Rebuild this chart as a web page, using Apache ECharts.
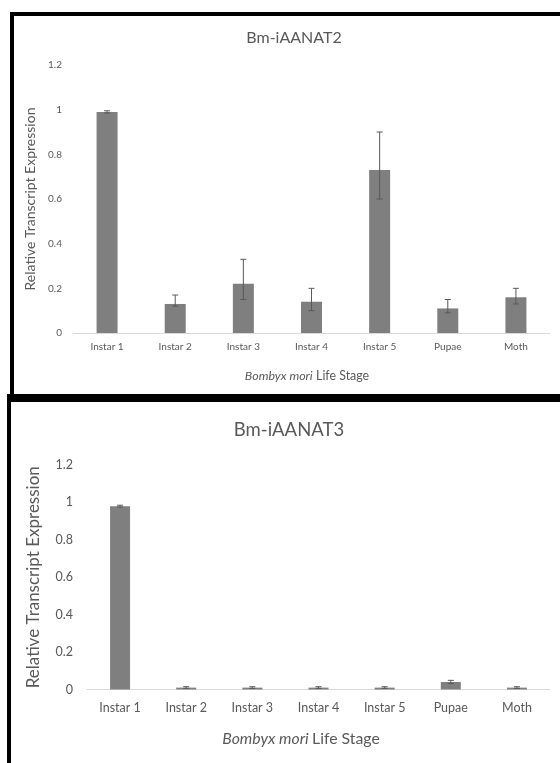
<!DOCTYPE html>
<html><head><meta charset="utf-8">
<script src="https://cdn.jsdelivr.net/npm/echarts@6/dist/echarts.min.js"></script>
<style>html,body{margin:0;padding:0;background:#fff;}#c{width:560px;height:763px;}</style>
</head><body><div id="c"></div>
<script>
const categories = ['Instar 1','Instar 2','Instar 3','Instar 4','Instar 5','Pupae','Moth'];
const yTicks = [0, 0.2, 0.4, 0.6, 0.8, 1, 1.2];
const a2Values = [0.99, 0.13, 0.22, 0.14, 0.73, 0.11, 0.16];
const a2Low    = [0.985, 0.12, 0.15, 0.10, 0.60, 0.09, 0.13];
const a2High   = [0.995, 0.17, 0.33, 0.20, 0.90, 0.15, 0.20];
const a3Values = [0.98, 0.01, 0.01, 0.01, 0.01, 0.04, 0.01];
const a3Low    = [0.975, 0.006, 0.006, 0.006, 0.006, 0.032, 0.006];
const a3High   = [0.985, 0.015, 0.015, 0.015, 0.015, 0.049, 0.015];
const titles = ['Bm-iAANAT2', 'Bm-iAANAT3'];
const yName = 'Relative Transcript Expression';

const FONT = 'Lato';
const TXT = '#595959';
const chart = echarts.init(document.getElementById('c'), null, {renderer: 'canvas'});

function errSeries(idx, low, high, capW) {
  return {
    type: 'custom', xAxisIndex: idx, yAxisIndex: idx, z: 10,
    data: categories.map((c, i) => [i, low[i], high[i]]),
    renderItem: function (params, api) {
      const x = api.coord([api.value(0), 0])[0];
      const yl = api.coord([api.value(0), api.value(1)])[1];
      const yh = api.coord([api.value(0), api.value(2)])[1];
      const st = {stroke: '#595959', lineWidth: 1};
      return {type: 'group', children: [
        {type: 'line', shape: {x1: x, y1: yl, x2: x, y2: yh}, style: st},
        {type: 'line', shape: {x1: x - capW, y1: yh, x2: x + capW, y2: yh}, style: st},
        {type: 'line', shape: {x1: x - capW, y1: yl, x2: x + capW, y2: yl}, style: st}
      ]};
    }
  };
}

function richName(size) {
  return {
    i: {fontStyle: 'italic', fontFamily: FONT, fontSize: size, color: TXT},
    n: {fontFamily: FONT, fontSize: size, color: TXT}
  };
}
const xName = '{i|Bombyx mori} {n|Life Stage}';

const cfg = [
  {top: 65, bottom: 763 - 333, left: 73, tick: 10, lab: 10, lmargin: 11, xmargin: 9, xname: 12.4, yname: 14, nameGapX: 37, nameGapY: 31, padR: 9, title: 16, tx: 289, ty: 25, bw: 21, cap: 3},
  {top: 465, bottom: 763 - 689.5, left: 87, tick: 12.5, lab: 12.5, lmargin: 14, xmargin: 12, xname: 15.8, yname: 17, nameGapX: 41, nameGapY: 45, padR: 35, title: 18.5, tx: 284, ty: 416, bw: 20, cap: 3}
];

const option = {
  animation: false,
  backgroundColor: '#fff',
  title: cfg.map((c, k) => ({
    text: titles[k], left: c.tx, top: c.ty, textAlign: 'center',
    textStyle: {fontFamily: FONT, fontSize: c.title, fontWeight: 'normal', color: TXT}
  })),
  grid: cfg.map(c => ({left: c.left, right: 10, top: c.top, bottom: c.bottom})),
  xAxis: cfg.map((c, k) => ({
    type: 'category', gridIndex: k, data: categories,
    axisLine: {show: true, lineStyle: {color: '#d9d9d9', width: 1}},
    axisTick: {show: false},
    axisLabel: {fontFamily: FONT, fontSize: c.lab, color: TXT, margin: c.xmargin},
    name: xName,
    nameLocation: 'middle', nameGap: c.nameGapX,
    nameTextStyle: {rich: richName(c.xname), padding: [0, c.padR, 0, 0]}
  })),
  yAxis: cfg.map((c, k) => ({
    type: 'value', gridIndex: k, min: 0, max: 1.2, interval: 0.2,
    axisLine: {show: false}, axisTick: {show: false}, splitLine: {show: false},
    axisLabel: {fontFamily: FONT, fontSize: c.tick, color: TXT, margin: c.lmargin,
      formatter: v => { const t = yTicks.find(x => Math.abs(x - v) < 1e-9); return t === undefined ? '' : String(t); }},
    name: yName, nameLocation: 'middle', nameGap: c.nameGapY,
    nameTextStyle: {fontFamily: FONT, fontSize: c.yname, color: TXT}
  })),
  series: [
    {type: 'bar', xAxisIndex: 0, yAxisIndex: 0, data: a2Values, barWidth: cfg[0].bw, itemStyle: {color: '#7f7f7f'}},
    errSeries(0, a2Low, a2High, cfg[0].cap),
    {type: 'bar', xAxisIndex: 1, yAxisIndex: 1, data: a3Values, barWidth: cfg[1].bw, itemStyle: {color: '#7f7f7f'}},
    errSeries(1, a3Low, a3High, cfg[1].cap)
  ],
  graphic: [
    {type: 'rect', shape: {x: 10, y: 12, width: 550, height: 4}, style: {fill: '#000'}},
    {type: 'rect', shape: {x: 10, y: 12, width: 4, height: 384}, style: {fill: '#000'}},
    {type: 'rect', shape: {x: 7, y: 394, width: 553, height: 8}, style: {fill: '#000'}},
    {type: 'rect', shape: {x: 7, y: 394, width: 4, height: 369}, style: {fill: '#000'}}
  ]
};
chart.setOption(option);
</script></body></html>
